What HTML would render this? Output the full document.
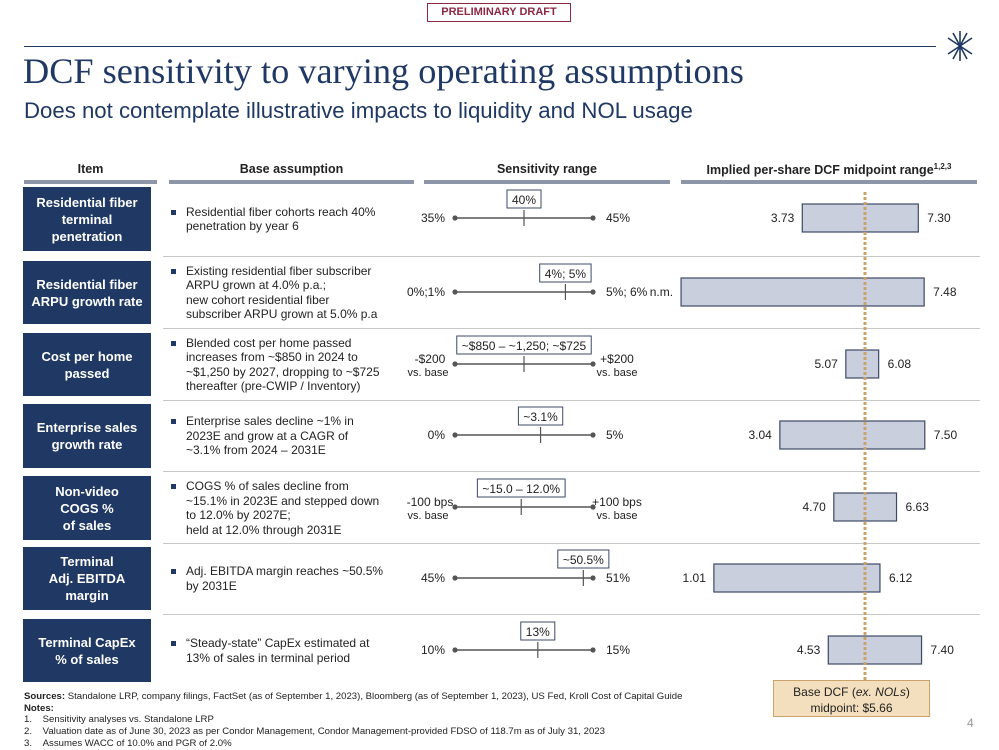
<!DOCTYPE html>
<html><head><meta charset="utf-8">
<style>
body{margin:0;background:#fff;}
#root{position:relative;width:999px;height:750px;overflow:hidden;font-family:"Liberation Sans",Arial,sans-serif;color:#222;}
.abs{position:absolute;}
.item{position:absolute;left:23px;width:128px;background:#1f3864;color:#fff;font-weight:bold;font-size:13px;line-height:17px;display:flex;align-items:center;justify-content:center;text-align:center;}
.base{position:absolute;left:170px;width:222px;font-size:12px;line-height:14.5px;color:#222;display:flex;align-items:center;}
.base ul{margin:0;padding:0;list-style:none;}
.base li{position:relative;padding-left:16px;}
.base li:before{content:"";position:absolute;left:1px;top:5px;width:5px;height:5px;background:#1f3864;}
.hdr{position:absolute;top:162px;font-size:12.5px;font-weight:bold;text-align:center;}
.hbar{position:absolute;top:180px;height:4px;background:#8c96a8;}
.sep{position:absolute;left:163px;width:817px;height:1px;background:#c8c8c8;}
.foot{position:absolute;left:24px;font-size:9.6px;color:#222;white-space:nowrap;}
</style></head>
<body>
<div id="root">
<div class="abs" style="left:427px;top:3px;width:142px;height:17px;border:1px solid #8b2942;color:#8b2942;font-weight:bold;font-size:11px;text-align:center;line-height:17px;">PRELIMINARY DRAFT</div>
<div class="abs" style="left:24px;top:46px;width:912px;height:1px;background:#1f3864;"></div>
<svg class="abs" style="left:944px;top:28px" width="32" height="36" viewBox="0 0 32 36">
<g stroke="#1f3864" stroke-width="1.6" fill="#1f3864">
<line x1="16" y1="18" x2="16" y2="3"/><line x1="16" y1="18" x2="9" y2="5"/><line x1="16" y1="18" x2="23" y2="5"/><line x1="16" y1="18" x2="4" y2="10"/><line x1="16" y1="18" x2="28" y2="10"/>
<line x1="16" y1="18" x2="16" y2="33"/><line x1="16" y1="18" x2="9" y2="31"/><line x1="16" y1="18" x2="23" y2="31"/><line x1="16" y1="18" x2="4" y2="26"/><line x1="16" y1="18" x2="28" y2="26"/>
</g></svg>
<div class="abs" style="left:23px;top:50px;font-family:'Liberation Serif',serif;font-size:36.3px;color:#1f3864;white-space:nowrap;">DCF sensitivity to varying operating assumptions</div>
<div class="abs" style="left:24px;top:98px;font-size:22.2px;color:#1f3864;white-space:nowrap;">Does not contemplate illustrative impacts to liquidity and NOL usage</div>

<div class="hdr" style="left:24px;width:133px;">Item</div>
<div class="hdr" style="left:169px;width:245px;">Base assumption</div>
<div class="hdr" style="left:424px;width:246px;">Sensitivity range</div>
<div class="hdr" style="left:681px;width:296px;">Implied per-share DCF midpoint range<sup style="font-size:8px">1,2,3</sup></div>
<div class="hbar" style="left:24px;width:133px"></div>
<div class="hbar" style="left:169px;width:245px"></div>
<div class="hbar" style="left:424px;width:246px"></div>
<div class="hbar" style="left:681px;width:296px"></div>

<div class="item" style="top:187px;height:64px">Residential fiber<br>terminal<br>penetration</div>
<div class="item" style="top:261px;height:63px">Residential fiber<br>ARPU growth rate</div>
<div class="item" style="top:333px;height:63px">Cost per home<br>passed</div>
<div class="item" style="top:404px;height:64px">Enterprise sales<br>growth rate</div>
<div class="item" style="top:476px;height:64px">Non-video<br>COGS %<br>of sales</div>
<div class="item" style="top:547px;height:63px">Terminal<br>Adj. EBITDA<br>margin</div>
<div class="item" style="top:619px;height:63px">Terminal CapEx<br>% of sales</div>

<div class="base" style="top:187px;height:64px"><ul><li>Residential fiber cohorts reach 40%<br>penetration by year 6</li></ul></div>
<div class="base" style="top:261px;height:63px"><ul><li>Existing residential fiber subscriber<br>ARPU grown at 4.0% p.a.;<br>new cohort residential fiber<br>subscriber ARPU grown at 5.0% p.a</li></ul></div>
<div class="base" style="top:333px;height:63px"><ul><li>Blended cost per home passed<br>increases from ~$850 in 2024 to<br>~$1,250 by 2027, dropping to ~$725<br>thereafter (pre-CWIP / Inventory)</li></ul></div>
<div class="base" style="top:404px;height:64px"><ul><li>Enterprise sales decline ~1% in<br>2023E and grow at a CAGR of<br>~3.1% from 2024 – 2031E</li></ul></div>
<div class="base" style="top:476px;height:64px"><ul><li>COGS % of sales decline from<br>~15.1% in 2023E and stepped down<br>to 12.0% by 2027E;<br>held at 12.0% through 2031E</li></ul></div>
<div class="base" style="top:547px;height:63px"><ul><li>Adj. EBITDA margin reaches ~50.5%<br>by 2031E</li></ul></div>
<div class="base" style="top:619px;height:63px"><ul><li>“Steady-state” CapEx estimated at<br>13% of sales in terminal period</li></ul></div>

<div class="sep" style="top:256px"></div>
<div class="sep" style="top:328px"></div>
<div class="sep" style="top:400px"></div>
<div class="sep" style="top:471px"></div>
<div class="sep" style="top:543px"></div>
<div class="sep" style="top:614px"></div>

<svg id="chart" class="abs" style="left:0;top:0" width="999" height="750"></svg>

<div class="abs" style="left:773px;top:680px;width:157px;height:37px;background:#f3dfbd;border:1px solid #c9a36a;font-size:12px;line-height:16px;text-align:center;padding-top:3px;box-sizing:border-box;">Base DCF (<i>ex. NOLs</i>)<br>midpoint: $5.66</div>
<div class="abs" style="left:967px;top:716px;font-size:12px;color:#999;">4</div>

<div class="foot" style="top:691px;"><b>Sources:</b> Standalone LRP, company filings, FactSet (as of September 1, 2023), Bloomberg (as of September 1, 2023), US Fed, Kroll Cost of Capital Guide</div>
<div class="foot" style="top:703px;"><b>Notes:</b></div>
<div class="foot" style="top:714px;">1.&nbsp;&nbsp;&nbsp;&nbsp;Sensitivity analyses vs. Standalone LRP</div>
<div class="foot" style="top:726px;">2.&nbsp;&nbsp;&nbsp;&nbsp;Valuation date as of June 30, 2023 as per Condor Management, Condor Management-provided FDSO of 118.7m as of July 31, 2023</div>
<div class="foot" style="top:738px;">3.&nbsp;&nbsp;&nbsp;&nbsp;Assumes WACC of 10.0% and PGR of 2.0%</div>
</div>
<script>
const rowCenters = [218, 292, 364, 435, 507, 578, 650];
const lowVals = [3.73, 0, 5.07, 3.04, 4.70, 1.01, 4.53];
const highVals = [7.30, 7.48, 6.08, 7.50, 6.63, 6.12, 7.40];
const lowLabels = ["3.73", "n.m.", "5.07", "3.04", "4.70", "1.01", "4.53"];
const highLabels = ["7.30", "7.48", "6.08", "7.50", "6.63", "6.12", "7.40"];
const baseValue = 5.66;
const sensLeft = ["35%", "0%;1%", "-$200|vs. base", "0%", "-100 bps|vs. base", "45%", "10%"];
const sensRight = ["45%", "5%; 6%", "+$200|vs. base", "5%", "+100 bps|vs. base", "51%", "15%"];
const sensBaseLabel = ["40%", "4%; 5%", "~$850 – ~1,250; ~$725", "~3.1%", "~15.0 – 12.0%", "~50.5%", "13%"];
const sensBasePos = [0.5, 0.8, 0.5, 0.62, 0.48, 0.93, 0.6];

const NS = "http://www.w3.org/2000/svg";
const svg = document.getElementById('chart');
const x = v => 865 + (v - baseValue) * 32.5;
const sx = f => 455 + f * 138;
function mk(tag, attrs, parent) {
  const e = document.createElementNS(NS, tag);
  for (const k in attrs) e.setAttribute(k, attrs[k]);
  (parent || svg).appendChild(e);
  return e;
}
function txt(str, xx, yy, anchor) {
  const t = mk('text', {x: xx, y: yy, 'text-anchor': anchor, 'font-size': 12, fill: '#222', 'font-family': 'Liberation Sans, Arial, sans-serif'});
  t.textContent = str;
  return t;
}
for (let i = 0; i < rowCenters.length; i++) {
  const cy = rowCenters[i];
  const x0 = x(lowVals[i]), x1 = x(highVals[i]);
  const bar = mk('rect', {x: x0, y: cy - 14, width: x1 - x0, height: 28, fill: '#c9cfdc', stroke: '#3c4a66', 'stroke-width': 1.2});
  
  
  const lt = txt(lowLabels[i], x0 - 8, cy + 4, 'end');
  
  
  const ht = txt(highLabels[i], x1 + 9, cy + 4, 'start');
  
  
  const line = mk('line', {x1: sx(0), x2: sx(1), y1: cy, y2: cy, stroke: '#555', 'stroke-width': 1.5});
  
  
  mk('circle', {cx: sx(0), cy: cy, r: 2.6, fill: '#555'});
  mk('circle', {cx: sx(1), cy: cy, r: 2.6, fill: '#555'});
  const bx = sx(sensBasePos[i]);
  const tick = mk('line', {x1: bx, x2: bx, y1: cy - 8, y2: cy + 8, stroke: '#555', 'stroke-width': 1.2});
  
  
  const lab = txt(sensBaseLabel[i], bx, cy - 14, 'middle');
  
  
  const w = lab.getComputedTextLength() + 10;
  const box = mk('rect', {x: bx - w / 2, y: cy - 28, width: w, height: 18, fill: '#fff', stroke: '#3c4a66', 'stroke-width': 1});
  svg.insertBefore(box, lab);
  const L = sensLeft[i].split('|'), R = sensRight[i].split('|');
  if (L.length === 1) {
    txt(L[0], sx(0) - 10, cy + 4, 'end');
    txt(R[0], sx(1) + 13, cy + 4, 'start');
  } else {
    txt(L[0], 430, cy - 1, 'middle');
    const a = txt(L[1], 428, cy + 12, 'middle'); a.setAttribute('font-size', 11);
    txt(R[0], 617, cy - 1, 'middle');
    const b = txt(R[1], 617, cy + 12, 'middle'); b.setAttribute('font-size', 11);
  }
}
const mid = mk('line', {x1: x(baseValue), x2: x(baseValue), y1: 192, y2: 680, stroke: '#c9a36a', 'stroke-width': 3, 'stroke-dasharray': '3 2'});


</script>
</body></html>
